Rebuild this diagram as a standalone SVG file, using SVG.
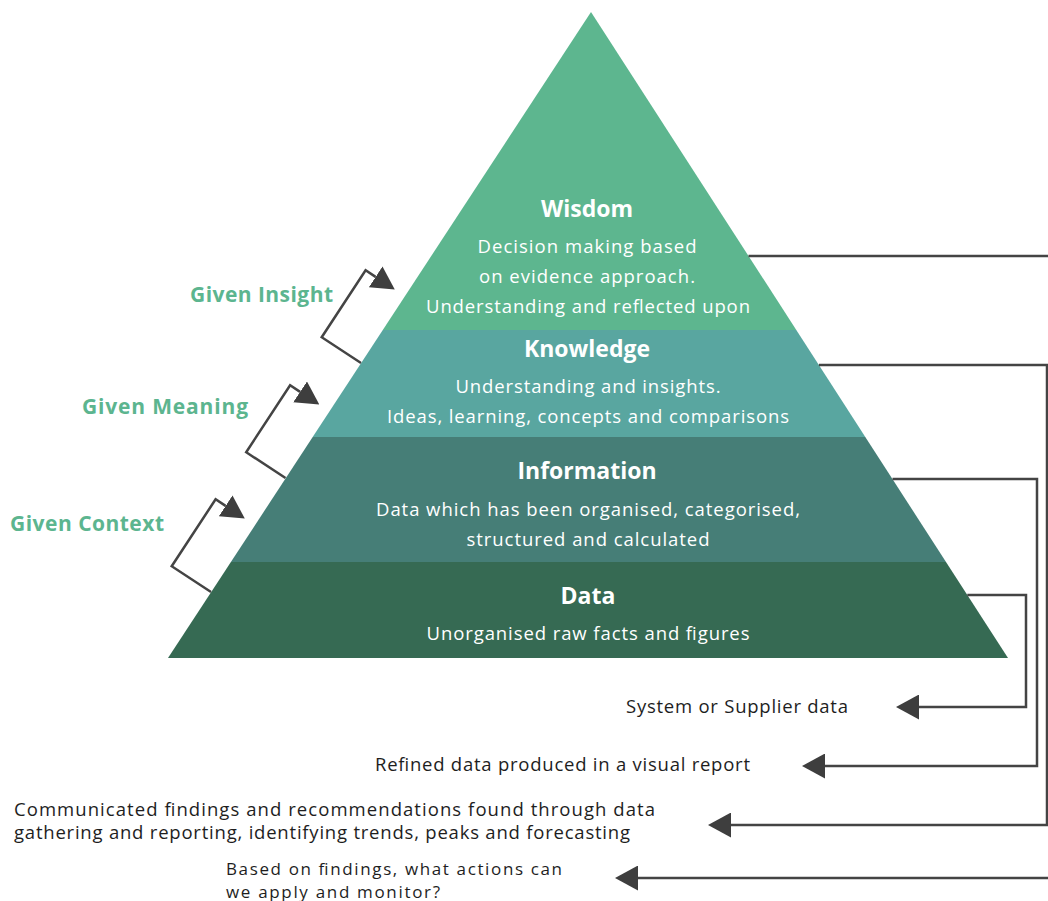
<svg xmlns="http://www.w3.org/2000/svg" width="1048" height="901" viewBox="0 0 1048 901">
<defs>
<style>
text{font-family:"Open Sans","Liberation Sans",sans-serif;}
.t{fill:#ffffff;font-size:23px;font-weight:700;text-anchor:middle;}
.d{fill:#ffffff;font-size:18.5px;text-anchor:middle;}
.g{fill:#5cb58f;font-size:21px;font-weight:700;}
.o{fill:#1e1e1e;font-size:18.5px;}
.s{fill:#1e1e1e;font-size:17px;}
.c{fill:none;stroke:#444444;stroke-width:2.5;stroke-linejoin:miter;}
</style>
<marker id="ah" viewBox="0 0 23 25" markerUnits="userSpaceOnUse" markerWidth="23" markerHeight="25" refX="0" refY="12.5" orient="auto">
<path d="M0,0 L23,12.5 L0,25 Z" fill="#3e3e3e"/>
</marker>
</defs>
<rect width="1048" height="901" fill="#ffffff"/>

<g id="wisdom">
<polygon points="591,12 796.3,330 382.8,330" fill="#5db68f"/>
<text class="t" x="587" y="217">Wisdom</text>
<text class="d" x="587" y="253" textLength="219">Decision making based</text>
<text class="d" x="587" y="283" textLength="216">on evidence approach.</text>
<text class="d" x="588" y="313" textLength="324">Understanding and reflected upon</text>
</g>
<g id="knowledge">
<polygon points="382.8,330 796.3,330 865.3,437 312.7,437" fill="#59a6a0"/>
<text class="t" x="587" y="357">Knowledge</text>
<text class="d" x="588" y="393" textLength="265">Understanding and insights.</text>
<text class="d" x="588" y="423" textLength="402">Ideas, learning, concepts and comparisons</text>
</g>
<g id="information">
<polygon points="312.7,437 865.3,437 946,562 230.9,562" fill="#467e77"/>
<text class="t" x="587" y="479">Information</text>
<text class="d" x="588" y="516" textLength="424">Data which has been organised, categorised,</text>
<text class="d" x="588" y="546" textLength="243">structured and calculated</text>
</g>
<g id="data">
<polygon points="230.9,562 946,562 1008,658 168,658" fill="#366a53"/>
<text class="t" x="588" y="604">Data</text>
<text class="d" x="588" y="640" textLength="323">Unorganised raw facts and figures</text>
</g>

<g id="labels">
<text class="g" x="190" y="302" textLength="143">Given Insight</text>
<text class="g" x="82" y="414" textLength="166">Given Meaning</text>
<text class="g" x="10" y="531" textLength="154">Given Context</text>
<text class="o" x="626" y="713" textLength="222">System or Supplier data</text>
<text class="o" x="375" y="771" textLength="375">Refined data produced in a visual report</text>
<text class="o" x="14" y="816" textLength="641">Communicated findings and recommendations found through data</text>
<text class="o" x="14" y="839" textLength="616">gathering and reporting, identifying trends, peaks and forecasting</text>
<text class="s" x="226" y="875" textLength="336">Based on findings, what actions can</text>
<text class="s" x="226" y="898" textLength="214">we apply and monitor?</text>
</g>

<g id="connectors">
<path class="c" d="M361,363 L321.7,337.2 L365.6,270.3 L375.6,276.9" marker-end="url(#ah)"/>
<path class="c" d="M285.5,478 L246.2,452.2 L290.1,385.3 L300.1,391.9" marker-end="url(#ah)"/>
<path class="c" d="M211,592 L171.7,566.2 L215.6,499.3 L225.6,505.9" marker-end="url(#ah)"/>
<path class="c" d="M748.5,256 L1052,256"/>
<path class="c" d="M1052,878 L638,878" marker-end="url(#ah)"/>
<path class="c" d="M818.9,365 L1047,365 L1047,825 L731,825" marker-end="url(#ah)"/>
<path class="c" d="M892.5,479 L1037,479 L1037,766 L825,766" marker-end="url(#ah)"/>
<path class="c" d="M967.3,595 L1026,595 L1026,707 L919,707" marker-end="url(#ah)"/>
</g>
</svg>
